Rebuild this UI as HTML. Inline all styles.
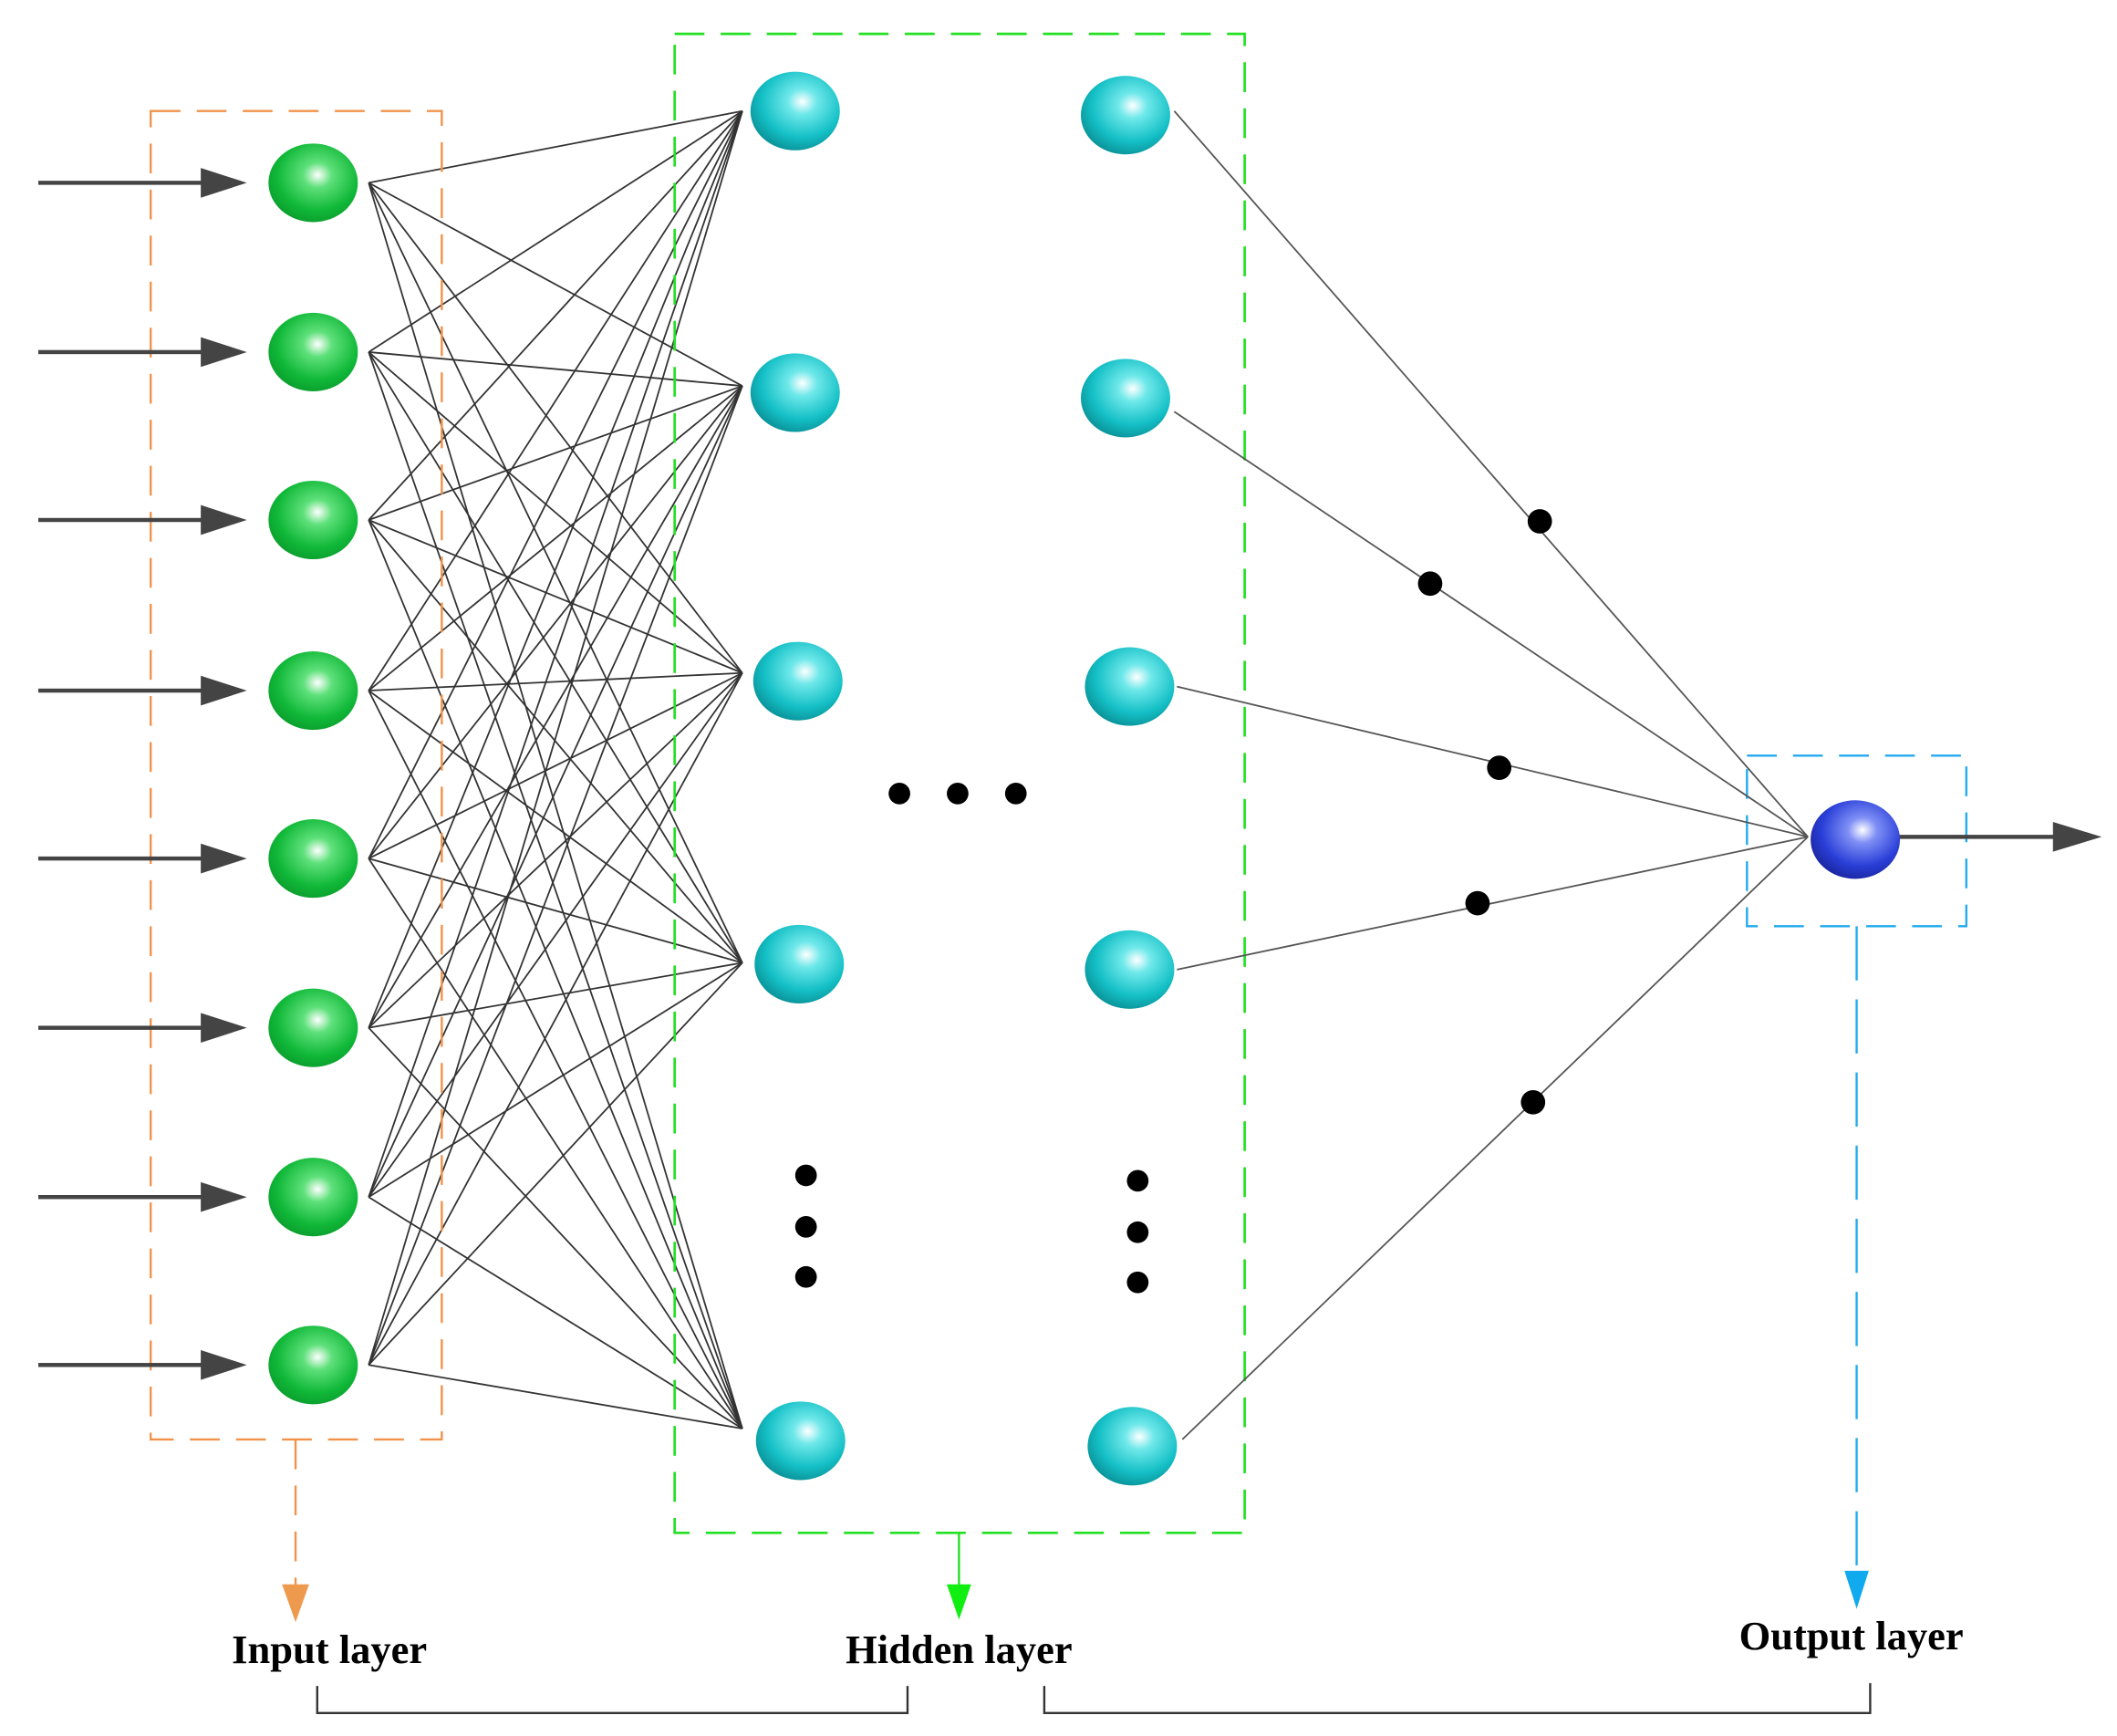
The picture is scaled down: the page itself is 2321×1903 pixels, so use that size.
<!DOCTYPE html>
<html><head><meta charset="utf-8"><style>html,body{margin:0;padding:0;background:#fff}svg{display:block}</style></head>
<body>
<svg width="2321" height="1903" viewBox="0 0 1563 1282" xmlns="http://www.w3.org/2000/svg">
<defs>
<radialGradient id="g" cx="0.55" cy="0.4" r="0.65"><stop offset="0" stop-color="#fff"/><stop offset="0.25" stop-color="#5ee07a"/><stop offset="0.7" stop-color="#10b838"/><stop offset="1" stop-color="#0a9a2c"/></radialGradient>
<radialGradient id="c" cx="0.58" cy="0.38" r="0.65"><stop offset="0" stop-color="#fff"/><stop offset="0.25" stop-color="#6fe8ea"/><stop offset="0.7" stop-color="#14c0c6"/><stop offset="1" stop-color="#0a9298"/></radialGradient>
<radialGradient id="b" cx="0.58" cy="0.38" r="0.65"><stop offset="0" stop-color="#fff"/><stop offset="0.25" stop-color="#7f8ff5"/><stop offset="0.7" stop-color="#2a3fd8"/><stop offset="1" stop-color="#1a26a0"/></radialGradient>
</defs>
<g stroke="#333" stroke-width="1.2" fill="none" id="conn"></g>
<!-- boxes -->
<rect x="111" y="82" width="215" height="981" fill="none" stroke="#f0924a" stroke-width="1.6" stroke-dasharray="22,12"/>
<rect x="498" y="25" width="421" height="1107" fill="none" stroke="#22e022" stroke-width="1.8" stroke-dasharray="22,12"/>
<rect x="1290" y="558" width="162" height="126" fill="none" stroke="#22aaee" stroke-width="1.6" stroke-dasharray="22,12"/>
<line x1="218" y1="1063" x2="218" y2="1172" stroke="#f0924a" stroke-width="1.6" stroke-dasharray="22,12"/>
<polygon points="208,1170 228,1170 218,1198" fill="#ee9a4e"/>
<line x1="708" y1="1132" x2="708" y2="1172" stroke="#22e022" stroke-width="1.6"/>
<polygon points="699,1170 717,1170 708,1196" fill="#11ee11"/>
<line x1="1371" y1="684" x2="1371" y2="1162" stroke="#22aaee" stroke-width="1.6" stroke-dasharray="40,14"/>
<polygon points="1362,1160 1380,1160 1371,1188" fill="#11aaee"/>
<!-- labels -->
<g font-family="Liberation Serif, serif" font-weight="bold" font-size="30" fill="#000" text-anchor="middle">
<text x="243" y="1228">Input layer</text>
<text x="708" y="1228">Hidden layer</text>
<text x="1367" y="1218">Output layer</text>
</g>
<path d="M234,1245V1265H670V1245M771,1245V1265H1381V1243" fill="none" stroke="#333" stroke-width="1.6"/>
<!-- input arrows -->
<g id="arr" fill="#444"></g>
<!-- output lines -->
<g stroke="#555" stroke-width="1.2">
<line x1="867" y1="82" x2="1335" y2="618"/><line x1="867" y1="304" x2="1335" y2="618"/>
<line x1="869" y1="507" x2="1335" y2="618"/><line x1="869" y1="716" x2="1335" y2="618"/>
<line x1="873" y1="1063" x2="1335" y2="618"/>
</g>
<line x1="1400" y1="618" x2="1520" y2="618" stroke="#444" stroke-width="3"/>
<polygon points="1516,607 1552,618 1516,629" fill="#444"/>
<g fill="#000">
<circle cx="1137" cy="385" r="9"/><circle cx="1056" cy="431" r="9"/><circle cx="1107" cy="567" r="9"/><circle cx="1091" cy="667" r="9"/><circle cx="1132" cy="814" r="9"/>
<circle cx="664" cy="586" r="8"/><circle cx="707" cy="586" r="8"/><circle cx="750" cy="586" r="8"/>
<circle cx="595" cy="868" r="8"/><circle cx="595" cy="906" r="8"/><circle cx="595" cy="943" r="8"/>
<circle cx="840" cy="872" r="8"/><circle cx="840" cy="910" r="8"/><circle cx="840" cy="947" r="8"/>
</g>
<g id="nodes"></g>
<ellipse cx="1370" cy="620" rx="33" ry="29" fill="url(#b)"/>
<script>
var ns="http://www.w3.org/2000/svg";
var iy=[135,260,384,510,634,759,884,1008];
var hy=[82,285,497,711,1055];
var conn=document.getElementById('conn'),arr=document.getElementById('arr'),nodes=document.getElementById('nodes');
function el(p,t,a){var e=document.createElementNS(ns,t);for(var k in a)e.setAttribute(k,a[k]);p.appendChild(e);return e;}
iy.forEach(function(y){hy.forEach(function(h){el(conn,'line',{x1:272,y1:y,x2:548,y2:h});});
 el(arr,'rect',{x:28,y:y-1.5,width:125,height:3});
 el(arr,'polygon',{points:(148)+','+(y-11)+' 182,'+y+' 148,'+(y+11)});
 el(nodes,'ellipse',{cx:231,cy:y,rx:33,ry:29,fill:'url(#g)'});});
[[587,82],[587,290],[589,503],[590,712],[591,1064],[831,85],[831,294],[834,507],[834,716],[836,1068]].forEach(function(p){
 el(nodes,'ellipse',{cx:p[0],cy:p[1],rx:33,ry:29,fill:'url(#c)'});});
</script>
</svg>
</body></html>
